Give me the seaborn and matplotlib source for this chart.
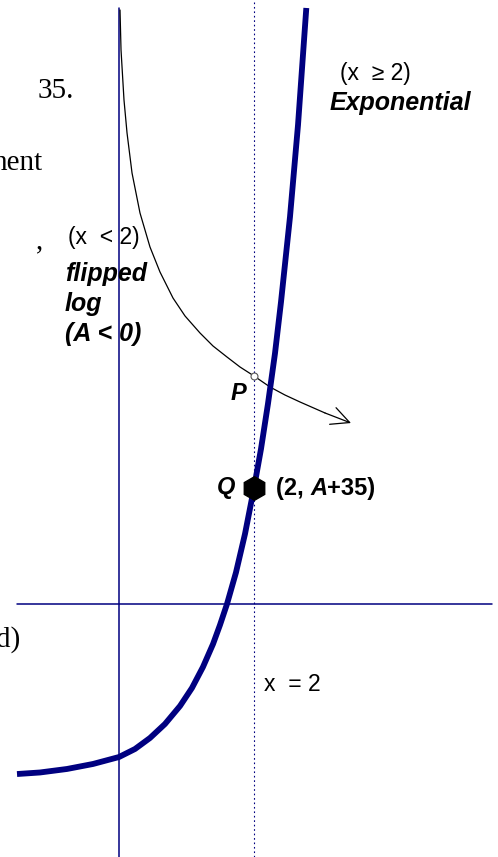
import numpy as np
import pandas as pd
import matplotlib
matplotlib.use("Agg")
import matplotlib.pyplot as plt
import seaborn as sns

sns.set_style("white")
plt.rcParams["font.family"] = ["Liberation Sans", "DejaVu Sans"]
plt.rcParams["text.color"] = "black"

# picture geometry: 1 graph unit = 67.5 px, origin at pixel (119, 604)
W, H = 498, 857
UNIT, X0, Y0 = 67.5, 119, 604

# exponential branch
exp_x = [-1.511, -1.170, -0.770, -0.385, 0.000, 0.237, 0.459, 0.681, 0.904, 1.081,
         1.244, 1.393, 1.496, 1.600, 1.733, 1.867, 2.000, 2.104, 2.207, 2.311,
         2.400, 2.533, 2.652, 2.775]
exp_y = [-2.519, -2.496, -2.444, -2.370, -2.267, -2.148, -1.985, -1.778, -1.511, -1.244,
         -0.933, -0.593, -0.311, 0.000, 0.467, 1.040, 1.719, 2.299, 2.966, 3.713,
         4.474, 5.733, 7.096, 8.830]

# flipped log branch (x < 2), ends in an arrow
log_x = [0.015, 0.030, 0.052, 0.074, 0.119, 0.193, 0.311, 0.459, 0.607, 0.800,
         0.978, 1.200, 1.393, 1.600, 1.793, 2.000, 2.237, 2.459, 2.681, 3.052, 3.437]
log_y = [8.800, 8.207, 7.837, 7.467, 6.978, 6.385, 5.793, 5.289, 4.919, 4.533,
         4.267, 4.015, 3.822, 3.659, 3.511, 3.378, 3.215, 3.096, 2.993, 2.830, 2.681]

point_p = (2.0, 3.378)
point_q = (2.0, 1.719)
x_line = 2.0

NAVY = "#000080"


def px(x, y):
    """pixel position -> figure fraction"""
    return x / W, 1 - y / H


fig = plt.figure(figsize=(W / 100, H / 100), dpi=100)
ax = fig.add_axes([0, 0, 1, 1])
ax.set_xlim(-X0 / UNIT, (W - X0) / UNIT)
ax.set_ylim((Y0 - H) / UNIT, Y0 / UNIT)
ax.axis("off")

# coordinate axes and the x = 2 guide
ax.plot([(17 - X0) / UNIT, (492 - X0) / UNIT], [0, 0], color=NAVY, lw=1.1)
ax.plot([0, 0], [(Y0 - H) / UNIT, (Y0 - 8) / UNIT], color=NAVY, lw=1.1)
ax.axvline(x_line, color=NAVY, lw=0.8, ls=(0, (1.5, 2.5)))

exp_df = pd.DataFrame({"x": exp_x, "y": exp_y})
log_df = pd.DataFrame({"x": log_x, "y": log_y})
sns.lineplot(data=log_df.iloc[:-1], x="x", y="y", sort=False, estimator=None,
             color="black", lw=0.9, ax=ax)
ax.annotate("", xy=(log_x[-1], log_y[-1]), xytext=(log_x[-2], log_y[-2]),
            arrowprops=dict(arrowstyle="->,head_length=0.65,head_width=0.32",
                            color="black", lw=0.9, shrinkA=0, shrinkB=0,
                            mutation_scale=20))
sns.lineplot(data=exp_df, x="x", y="y", sort=False, estimator=None,
             color=NAVY, lw=4.2, ax=ax, solid_joinstyle="round",
             solid_capstyle="butt")

ax.plot(*point_p, marker="o", ms=5, mfc="white", mec="#555555", mew=0.8, zorder=5)
ax.plot(*point_q, marker="h", ms=17, color="black", zorder=5)

# cut-off document text on the left
serif = ["Liberation Serif", "DejaVu Serif"]
fig.text(*px(38, 98), "35.", family=serif, fontsize=21, va="baseline")
fig.text(*px(42, 170), "nent", family=serif, fontsize=21, va="baseline", ha="right")
fig.text(*px(36, 248), ",", family=serif, fontsize=21, va="baseline")
fig.text(*px(20, 647), "d)", family=serif, fontsize=21, va="baseline", ha="right")

# graph labels
fs = 16.5
fb = 18
bi = dict(weight="bold", style="italic", va="baseline")
fig.text(*px(68, 244), "(x  < 2)", fontsize=fs, va="baseline")
fig.text(*px(65, 281), "flipped", fontsize=fb, **bi)
fig.text(*px(65, 311), "log", fontsize=fb, **bi)
fig.text(*px(65, 341), "(A < 0)", fontsize=fb, **bi)
fig.text(*px(340, 80), "(x  \u2265 2)", fontsize=fs, va="baseline")
fig.text(*px(330, 110), "Exponential", fontsize=fb, **bi)
fig.text(*px(231, 400), "P", fontsize=17, **bi)
fig.text(*px(217, 494), "Q", fontsize=17, **bi)
fig.text(*px(264, 691), "x  = 2", fontsize=fs, va="baseline")

# "(2, A+35)" with italic A
renderer = fig.canvas.get_renderer()
cx = 276
for part, st in [("(2, ", "normal"), ("A", "italic"), ("+35)", "normal")]:
    t = fig.text(*px(cx, 495), part, fontsize=17, weight="bold", style=st, va="baseline")
    cx += t.get_window_extent(renderer).width

fig.savefig("out.png", dpi=100)
